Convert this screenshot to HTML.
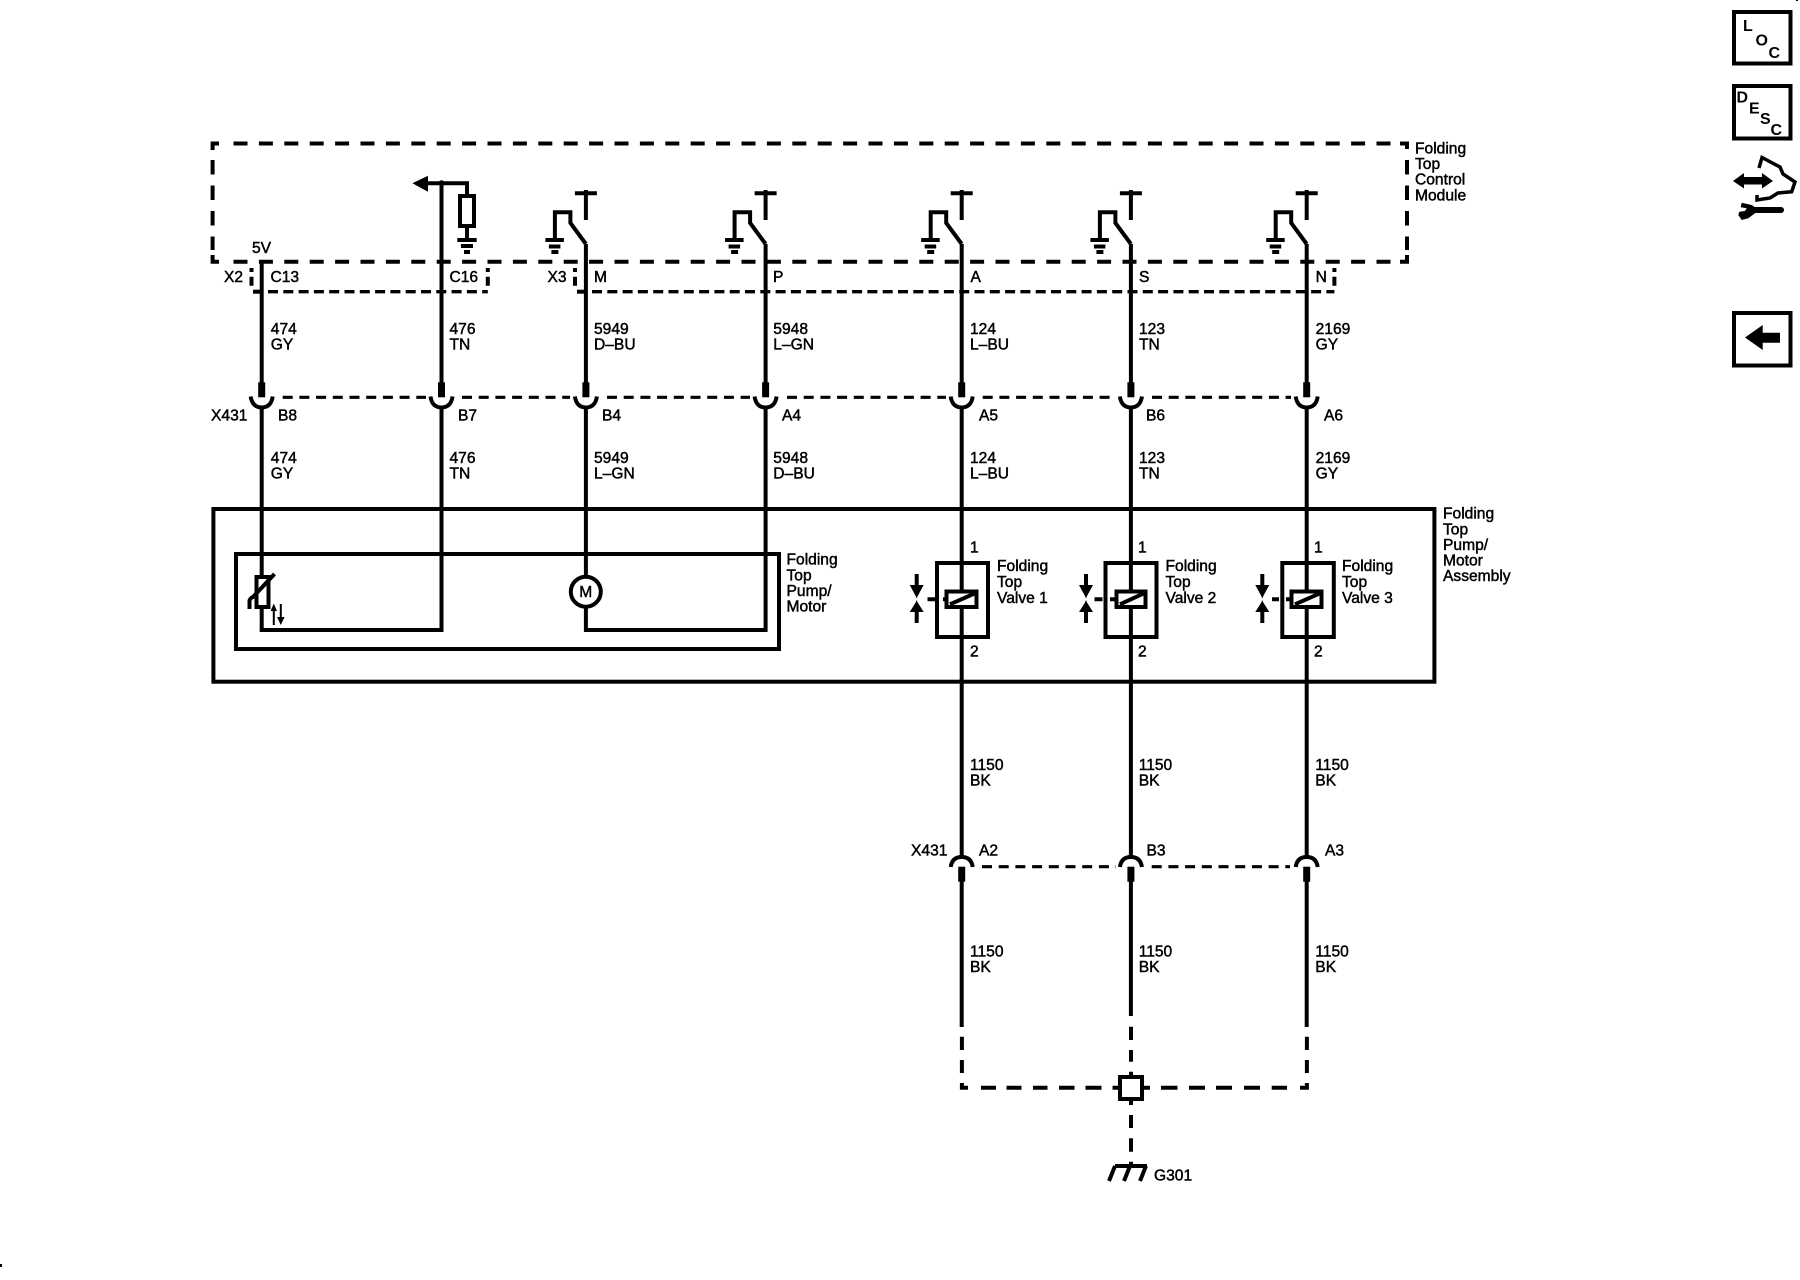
<!DOCTYPE html>
<html lang="en"><head><meta charset="utf-8"><title>Folding Top Wiring Diagram</title>
<style>
html,body{margin:0;padding:0;background:#fff}
svg{display:block}
text{font-family:"Liberation Sans",sans-serif;font-size:15.6px;fill:#000;stroke:#000;stroke-width:.45}
.i{font-weight:bold;font-size:16px;stroke:none}
.w{fill:none;stroke:#000;stroke-width:4}
.t{fill:none;stroke:#000;stroke-width:4;stroke-dasharray:14 11.4}
.c{fill:none;stroke:#000;stroke-width:3.4;stroke-dasharray:10 5.3}
.v{fill:none;stroke:#000;stroke-width:4;stroke-dasharray:4 4.7 9 99}
.s{fill:none;stroke:#000;stroke-width:3.2;stroke-dasharray:10 6.7}
.b{fill:none;stroke:#000;stroke-width:4;stroke-dasharray:14.5 11}
</style></head><body>
<svg xmlns="http://www.w3.org/2000/svg" width="1800" height="1280" viewBox="0 0 1800 1280">
<defs>
<g id="sw" fill="none" stroke="#000" stroke-width="4">
<path d="M0 244L-15.5 223V212.3H-31V240"/>
<path d="M0 220V193.3M-11 193.3H11M0 190V194"/>
<path d="M-40.5 240H-22M-37 246.5H-25.5M-34.5 252H-27.5"/>
</g>
<g id="uc" fill="none" stroke="#000">
<path d="M-11 396.5C-10 404 -6 407.5 0 407.5C6 407.5 10 404 11 396.5" stroke-width="4"/>
<path d="M0 382.3V397.3" stroke-width="7"/>
</g>
<g id="lc" fill="none" stroke="#000">
<path d="M-11 867C-10 860 -6 857 0 857C6 857 10 860 11 867" stroke-width="4"/>
<path d="M0 866.7V881.7" stroke-width="7"/>
</g>
<g id="arr" fill="#000" stroke="none">
<rect x="-2" y="574" width="4" height="12"/>
<path d="M-7 585H7L1 596L0 598.5L-1 596Z"/>
<path d="M-7 612H7L1 602.5L0 600L-1 602.5Z"/>
<rect x="-2" y="611" width="4" height="12"/>
</g>
</defs>

<!-- control module box -->
<path class="t" d="M233.5 143.5H1395"/>
<path class="w" d="M219 143.5H212.6V150"/>
<path class="b" d="M212.6 160V250"/>
<path class="w" d="M212.6 255V261.7H219"/>
<path class="t" d="M233.5 261.7H1395"/>
<path class="w" d="M1400 143.5H1407V149M1407 255V261.7H1400"/>
<path class="b" d="M1407 160V250"/>

<!-- connector X2 / X3 -->
<path class="w" d="M253 291.7H262" stroke-width="3.4"/>
<path class="c" d="M268 291.7H487.8"/>
<path class="v" d="M251.5 268V286"/>
<path class="v" d="M487.8 268V286"/>
<path class="w" d="M577 291.7H586" stroke-width="3.4"/>
<path class="c" d="M592 291.7H1334.4"/>
<path class="v" d="M575 268V286"/>
<path class="v" d="M1334.4 268V286"/>

<!-- X431 upper dashed -->
<path class="s" d="M282.7 397.3H426M462 397.3H570M607 397.3H750M787 397.3H946M982.7 397.3H1116M1152 397.3H1291"/>

<!-- wires upper -->
<path class="w" d="M261.7 261.7V397M261.7 407V630H441.5V407M441.5 397V183.3"/>
<path class="w" d="M585.9 244V397M585.9 407V630H765.6V407M765.6 397V244"/>
<path class="w" d="M961.7 244V397M961.7 407V857M961.7 867V1027"/>
<path class="w" d="M1130.9 244V397M1130.9 407V857M1130.9 867V1016"/>
<path class="w" d="M1306.7 244V397M1306.7 407V857M1306.7 867V1027"/>

<!-- switches -->
<use href="#sw" x="585.9"/>
<use href="#sw" x="765.6"/>
<use href="#sw" x="961.7"/>
<use href="#sw" x="1130.9"/>
<use href="#sw" x="1306.7"/>

<!-- C16 resistor branch -->
<path class="w" d="M426 183.3H467V240"/>
<rect x="460" y="196" width="14" height="30" fill="#fff" stroke="#000" stroke-width="4"/>
<path class="w" d="M457.3 240H476.7M461 246H473M464 252H470"/>
<path d="M412.4 183.3L428 175.7V191.7Z" fill="#000"/>
<circle cx="441.5" cy="183.3" r="3" fill="#000"/>

<!-- X431 upper connectors -->
<use href="#uc" x="261.7"/>
<use href="#uc" x="441.5"/>
<use href="#uc" x="585.9"/>
<use href="#uc" x="765.6"/>
<use href="#uc" x="961.7"/>
<use href="#uc" x="1130.9"/>
<use href="#uc" x="1306.7"/>

<!-- assembly boxes -->
<rect x="213.4" y="509" width="1221" height="172.7" class="w"/>
<rect x="236" y="554" width="543" height="95" class="w"/>

<!-- thermistor -->
<rect x="256.5" y="577" width="12" height="30" fill="#fff" stroke="#000" stroke-width="4"/>
<path class="w" d="M249.5 609V601Q250 598 253 597L274.5 574" stroke-width="3"/>
<path d="M273.8 625V608" stroke="#000" stroke-width="2" fill="none"/>
<path d="M270.6 611L273.8 603.5L277 611Z" fill="#000"/>
<path d="M280.8 604V620" stroke="#000" stroke-width="2" fill="none"/>
<path d="M277 617L280.8 625L284.6 617Z" fill="#000"/>

<!-- motor -->
<circle cx="585.8" cy="591.7" r="15" fill="#fff" stroke="#000" stroke-width="4"/>
<text x="585.8" y="597" text-anchor="middle">M</text>

<!-- valves -->
<g>
<rect x="937" y="563" width="51" height="74" class="w"/>
<rect x="946.5" y="591.5" width="30" height="15.5" fill="#fff" stroke="#000" stroke-width="4"/>
<path class="w" d="M950 604.3L975 593.3"/>
<path class="w" d="M927.5 599.3H935M943 599.3H947"/>
<use href="#arr" x="916.7"/>
</g>
<g>
<rect x="1105.5" y="563" width="51" height="74" class="w"/>
<rect x="1116.5" y="591.5" width="29" height="15.5" fill="#fff" stroke="#000" stroke-width="4"/>
<path class="w" d="M1120 604.3L1144 593.3"/>
<path class="w" d="M1094.5 599.3H1102.5M1110 599.3H1117"/>
<use href="#arr" x="1086"/>
</g>
<g>
<rect x="1282.3" y="563" width="51.5" height="74" class="w"/>
<rect x="1291.5" y="591.5" width="30" height="15.5" fill="#fff" stroke="#000" stroke-width="4"/>
<path class="w" d="M1295 604.3L1320 593.3"/>
<path class="w" d="M1272 599.3H1279M1286 599.3H1292"/>
<use href="#arr" x="1262.3"/>
</g>

<!-- X431 lower -->
<path class="s" d="M982 866.7H1116M1151.7 866.7H1290"/>
<use href="#lc" x="961.7"/>
<use href="#lc" x="1130.9"/>
<use href="#lc" x="1306.7"/>

<!-- ground splice -->
<path class="w" d="M961.9 1036.7V1050M961.9 1060V1073M1306.9 1036.7V1050M1306.9 1060V1073"/>
<path class="w" d="M961.9 1083V1087.7H968M1306.9 1083V1087.7H1300"/>
<path class="w" d="M981 1087.7H996M1006.5 1087.7H1021.5M1033 1087.7H1047.5M1059 1087.7H1074.5M1085.5 1087.7H1101.5M1112.5 1087.7H1119"/>
<path class="w" d="M1142 1087.7H1150M1161 1087.7H1177.5M1189 1087.7H1205M1216 1087.7H1232M1244 1087.7H1260M1271.7 1087.7H1287"/>
<path class="w" d="M1131 1026.7V1040M1131 1050V1061.7M1131 1071.7V1076.7M1131 1100V1105M1131 1115V1128M1131 1138.3V1151.7M1131 1161.7V1166"/>
<rect x="1120" y="1077" width="22" height="22" fill="#fff" stroke="#000" stroke-width="4"/>
<path class="w" d="M1115 1166H1147M1115 1166L1109 1181M1130 1166L1124 1181M1146 1166L1140 1181" stroke-width="3.5"/>

<!-- texts -->
<text x="252" y="253">5V</text>
<text x="224" y="282">X2</text>
<text x="270.5" y="282">C13</text>
<text x="449.5" y="282">C16</text>
<text x="547.5" y="282">X3</text>
<text x="594" y="282">M</text>
<text x="773" y="282">P</text>
<text x="970.5" y="282">A</text>
<text x="1139" y="282">S</text>
<text x="1315.6" y="282">N</text>

<text x="270.8" y="334">474</text><text x="270.8" y="349.5">GY</text>
<text x="449.5" y="334">476</text><text x="449.5" y="349.5">TN</text>
<text x="594" y="334">5949</text><text x="594" y="349.5">D–BU</text>
<text x="773.3" y="334">5948</text><text x="773.3" y="349.5">L–GN</text>
<text x="970" y="334">124</text><text x="970" y="349.5">L–BU</text>
<text x="1139" y="334">123</text><text x="1139" y="349.5">TN</text>
<text x="1315.6" y="334">2169</text><text x="1315.6" y="349.5">GY</text>

<text x="211" y="420.7">X431</text>
<text x="278" y="420.7">B8</text>
<text x="458" y="420.7">B7</text>
<text x="602" y="420.7">B4</text>
<text x="782" y="420.7">A4</text>
<text x="979" y="420.7">A5</text>
<text x="1146" y="420.7">B6</text>
<text x="1324" y="420.7">A6</text>

<text x="270.8" y="463">474</text><text x="270.8" y="478.5">GY</text>
<text x="449.5" y="463">476</text><text x="449.5" y="478.5">TN</text>
<text x="594" y="463">5949</text><text x="594" y="478.5">L–GN</text>
<text x="773.3" y="463">5948</text><text x="773.3" y="478.5">D–BU</text>
<text x="970" y="463">124</text><text x="970" y="478.5">L–BU</text>
<text x="1139" y="463">123</text><text x="1139" y="478.5">TN</text>
<text x="1315.6" y="463">2169</text><text x="1315.6" y="478.5">GY</text>

<text x="1415" y="153.5">Folding</text><text x="1415" y="169">Top</text><text x="1415" y="184.5">Control</text><text x="1415" y="200.5">Module</text>
<text x="1443" y="518.5">Folding</text><text x="1443" y="534.5">Top</text><text x="1443" y="550">Pump/</text><text x="1443" y="565.5">Motor</text><text x="1443" y="581">Assembly</text>
<text x="786.5" y="564.5">Folding</text><text x="786.5" y="580.5">Top</text><text x="786.5" y="596">Pump/</text><text x="786.5" y="611.5">Motor</text>

<text x="997" y="571">Folding</text><text x="997" y="587">Top</text><text x="997" y="603">Valve 1</text>
<text x="1165.5" y="571">Folding</text><text x="1165.5" y="587">Top</text><text x="1165.5" y="603">Valve 2</text>
<text x="1342" y="571">Folding</text><text x="1342" y="587">Top</text><text x="1342" y="603">Valve 3</text>

<text x="970" y="552.5">1</text><text x="970" y="656.5">2</text>
<text x="1138" y="552.5">1</text><text x="1138" y="656.5">2</text>
<text x="1314" y="552.5">1</text><text x="1314" y="656.5">2</text>

<text x="970" y="770">1150</text><text x="970" y="785.5">BK</text>
<text x="1138.7" y="770">1150</text><text x="1138.7" y="785.5">BK</text>
<text x="1315.3" y="770">1150</text><text x="1315.3" y="785.5">BK</text>

<text x="911" y="855.5">X431</text>
<text x="979" y="855.5">A2</text>
<text x="1146.5" y="855.5">B3</text>
<text x="1325" y="855.5">A3</text>

<text x="970" y="956.5">1150</text><text x="970" y="972">BK</text>
<text x="1138.7" y="956.5">1150</text><text x="1138.7" y="972">BK</text>
<text x="1315.3" y="956.5">1150</text><text x="1315.3" y="972">BK</text>

<text x="1154" y="1180.5">G301</text>

<!-- right icons -->
<rect x="1734" y="12" width="56.5" height="51.5" fill="none" stroke="#000" stroke-width="4"/>
<text class="i" x="1743" y="31">L</text><text class="i" x="1755.5" y="45.5">O</text><text class="i" x="1768.5" y="58">C</text>
<rect x="1734" y="86" width="56.5" height="52.5" fill="none" stroke="#000" stroke-width="4"/>
<text class="i" x="1736.5" y="102.7">D</text><text class="i" x="1749" y="113.5">E</text><text class="i" x="1760" y="124">S</text><text class="i" x="1770.5" y="135">C</text>
<path d="M1733 181L1744 173V177H1762V173L1773 181L1762 188.5V184.5H1744V188.5Z" fill="#000"/>
<path d="M1759 168L1762 157.5L1780 167L1783 174L1795 182L1791.7 191.7L1778 193L1770 198L1757 200L1757 195" fill="none" stroke="#000" stroke-width="3.5"/>
<path d="M1752 210H1781" stroke="#000" stroke-width="6" stroke-linecap="round" fill="none"/>
<path d="M1741.7 202.7L1751.7 205L1755 207.3V213.3L1748.3 218.3L1741.7 220L1738.3 215L1739.3 211.7L1745 211L1746.7 208.3L1740.7 207.3Z" fill="#000"/>
<rect x="1734" y="313" width="56.5" height="52.5" fill="none" stroke="#000" stroke-width="4"/>
<path d="M1745 337.5L1762.7 325V332.7H1780V342.7H1762.7V350Z" fill="#000"/>

<rect x="0" y="1264" width="2" height="3" fill="#000"/>
<rect x="1796" y="0" width="2" height="1" fill="#000"/>
</svg>
</body></html>
